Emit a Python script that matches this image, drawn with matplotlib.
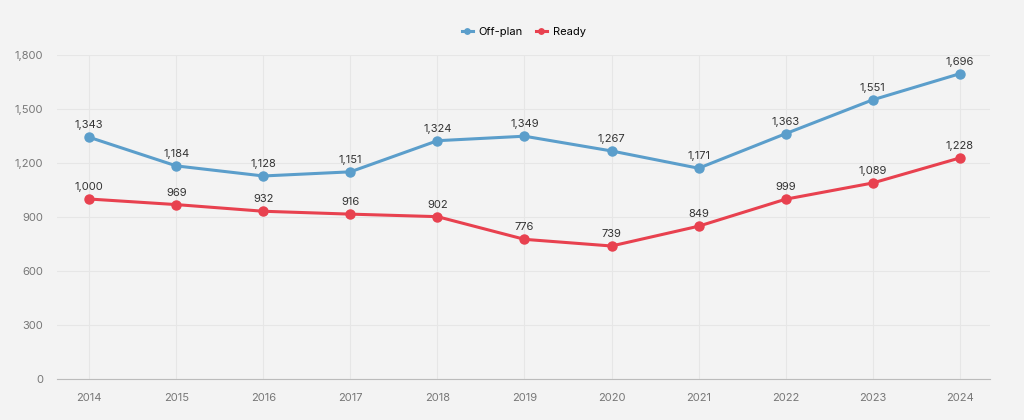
import matplotlib.pyplot as plt
from matplotlib.ticker import FuncFormatter

plt.rcParams["font.family"] = ["Inter", "DejaVu Sans"]

years = [2014, 2015, 2016, 2017, 2018, 2019, 2020, 2021, 2022, 2023, 2024]
off_plan = [1343, 1184, 1128, 1151, 1324, 1349, 1267, 1171, 1363, 1551, 1696]
ready = [1000, 969, 932, 916, 902, 776, 739, 849, 999, 1089, 1228]

BG = "#f3f3f3"
BLUE = "#5b9ecb"
RED = "#e8414f"

fig = plt.figure(figsize=(10.24, 4.2), dpi=100, facecolor=BG)
ax = fig.add_axes([0.0557, 0.0976, 0.9113, 0.7714], facecolor=BG)

for vals, color, name in [(off_plan, BLUE, "Off-plan"), (ready, RED, "Ready")]:
    ax.plot(years, vals, color=color, lw=2.2, marker="o", ms=6.5,
            label=name, zorder=3)
    for x, v in zip(years, vals):
        ax.annotate(f"{v:,}", (x, v), xytext=(0, 5), textcoords="offset points",
                    ha="center", va="bottom", fontsize=8, color="#333333")

ax.set_xlim(2013.63, 2024.35)
ax.set_ylim(0, 1800)
ax.set_xticks(years)
ax.set_yticks(range(0, 1801, 300))
ax.yaxis.set_major_formatter(FuncFormatter(lambda v, _: f"{int(v):,}"))
ax.grid(True, color="#e6e6e6", lw=0.8)
ax.set_axisbelow(True)
for side in ["top", "right", "left"]:
    ax.spines[side].set_visible(False)
ax.spines["bottom"].set_color("#bbbbbb")
ax.tick_params(length=0, labelsize=8, colors="#777777", pad=10)

ax.legend(loc="lower center", bbox_to_anchor=(0.5, 1.025), ncol=2, frameon=False,
          fontsize=8, handlelength=1.0, handletextpad=0.5, columnspacing=1.2,
          markerscale=0.6)

fig.savefig("out.png", dpi=100, facecolor=BG)
